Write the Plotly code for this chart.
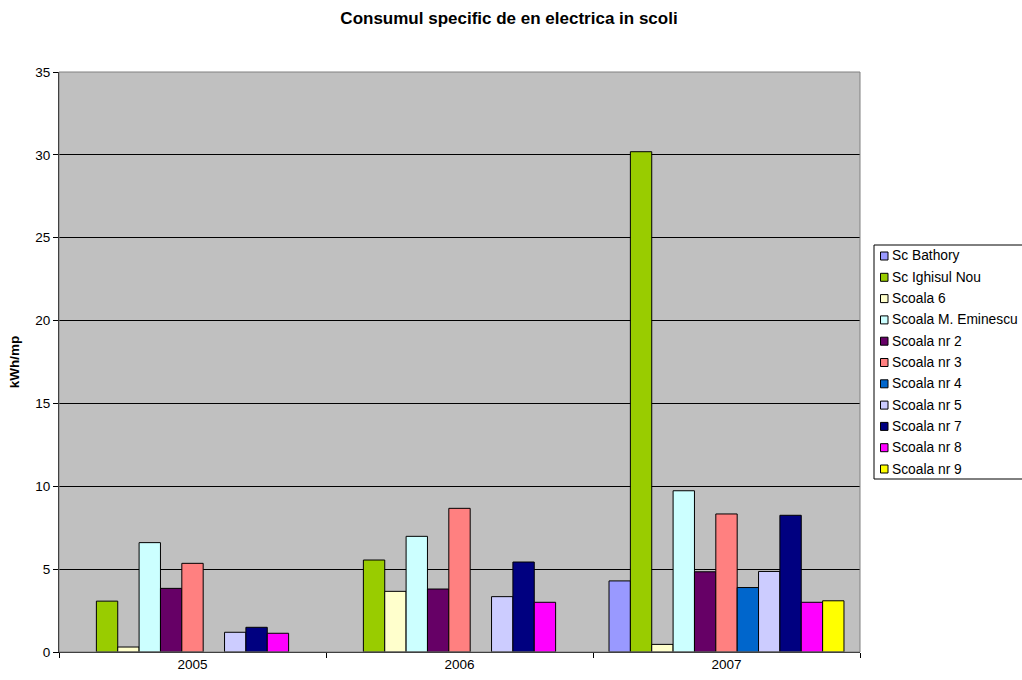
import plotly.graph_objects as go

years = ["2005", "2006", "2007"]
series_names = ["Sc Bathory", "Sc Ighisul Nou", "Scoala 6", "Scoala M. Eminescu",
                "Scoala nr 2", "Scoala nr 3", "Scoala nr 4", "Scoala nr 5",
                "Scoala nr 7", "Scoala nr 8", "Scoala nr 9"]
sc_bathory = [None, None, 4.29]
sc_ighisul_nou = [3.07, 5.55, 30.19]
scoala_6 = [0.3, 3.66, 0.46]
scoala_eminescu = [6.6, 6.98, 9.73]
scoala_nr2 = [3.84, 3.8, 4.84]
scoala_nr3 = [5.35, 8.67, 8.33]
scoala_nr4 = [None, None, 3.89]
scoala_nr5 = [1.19, 3.34, 4.86]
scoala_nr7 = [1.49, 5.43, 8.25]
scoala_nr8 = [1.13, 3.0, 3.0]
scoala_nr9 = [None, None, 3.09]
values = [sc_bathory, sc_ighisul_nou, scoala_6, scoala_eminescu, scoala_nr2,
          scoala_nr3, scoala_nr4, scoala_nr5, scoala_nr7, scoala_nr8, scoala_nr9]
colors = ["#9999FF", "#99CC00", "#FFFFCC", "#CCFFFF", "#660066", "#FF8080",
          "#0066CC", "#CCCCFF", "#000080", "#FF00FF", "#FFFF00"]

W, H = 1022, 680
plot_l, plot_r, plot_t, plot_b = 59, 860, 72, 652
pw = plot_r - plot_l
ph = plot_b - plot_t


def px(x):
    return (x - plot_l) / pw


def py(y):
    return (plot_b - y) / ph


fig = go.Figure()
for name, vals, col in zip(series_names, values, colors):
    fig.add_trace(go.Bar(x=years, y=vals, name=name, showlegend=False,
                         marker=dict(color=col, line=dict(color="black", width=1))))

fig.update_layout(
    width=W, height=H,
    barmode="group", bargap=0.12, bargroupgap=0,
    paper_bgcolor="white", plot_bgcolor="#C0C0C0",
    margin=dict(l=plot_l, r=W - plot_r, t=plot_t, b=H - plot_b),
    font=dict(family="Arial, Liberation Sans, sans-serif", size=13.5, color="black"),
    title=dict(text="<b>Consumul specific de en electrica in scoli</b>",
               x=509 / W, xanchor="center", y=1 - 18 / H, yanchor="middle",
               font=dict(size=17, color="black")),
    showlegend=False,
)
fig.update_xaxes(type="category", showline=True, linecolor="black", linewidth=1,
                 ticks="outside", tickson="boundaries", ticklen=5, tickcolor="black",
                 showgrid=False, mirror=False, tickfont=dict(size=13.5), automargin=False)
fig.update_yaxes(range=[0, 35], dtick=5, showline=True, linecolor="black", linewidth=1,
                 ticks="outside", ticklen=5, tickcolor="black",
                 showgrid=True, gridcolor="black", gridwidth=1, zeroline=False,
                 title=dict(text="<b>kWh/mp</b>", font=dict(size=13.5), standoff=12),
                 tickfont=dict(size=13.5), automargin=False)
# plot-area frame
fig.add_shape(type="rect", xref="paper", yref="paper", x0=0, y0=0, x1=1, y1=1,
              line=dict(color="#808080", width=1), layer="above")

# legend: frame, swatches and labels built from the series lists
fig.add_shape(type="rect", xref="paper", yref="paper",
              x0=px(874), x1=px(1040), y0=py(479), y1=py(245),
              line=dict(color="black", width=1), fillcolor="white", layer="above")
row0, step = 256.0, 21.3
for i, (name, col) in enumerate(zip(series_names, colors)):
    cy = row0 + i * step
    fig.add_shape(type="rect", xref="paper", yref="paper",
                  x0=px(880.5), x1=px(888), y0=py(cy + 4), y1=py(cy - 4),
                  line=dict(color="black", width=1), fillcolor=col, layer="above")
    fig.add_annotation(xref="paper", yref="paper", x=px(890), y=py(cy),
                       xanchor="left", yanchor="middle", text=name, showarrow=False,
                       font=dict(size=13.8, color="black"))

fig.write_html("out.html", config={"displayModeBar": False},
               post_script="document.body.style.margin='0';")
